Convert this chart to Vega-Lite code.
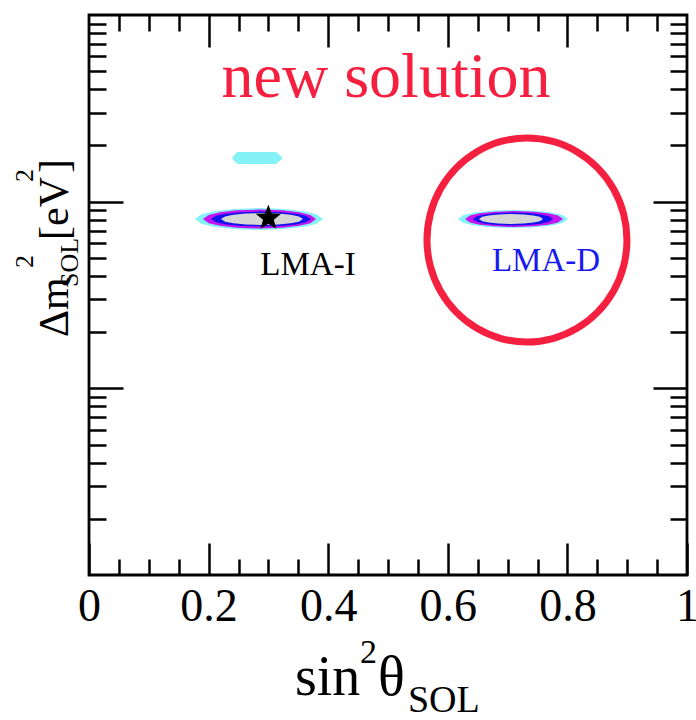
{
  "$schema": "https://vega.github.io/schema/vega-lite/v6.json",
  "width": 598,
  "height": 560,
  "autosize": "none",
  "padding": {"left": 89, "top": 15, "right": 9, "bottom": 145},
  "background": "white",
  "config": {
    "view": {"stroke": "black", "strokeWidth": 2.8},
    "axis": {"domain": false, "grid": false, "tickWidth": 2.5, "tickColor": "black", "title": null},
    "text": {"font": "Liberation Serif"}
  },
  "datasets": {
    "contours": [
      {"r": "I", "lv": "c", "x": 0.1773, "lo": 8.073e-5, "hi": 8.073e-5},
      {"r": "I", "lv": "c", "x": 0.1880, "lo": 7.610e-5, "hi": 8.565e-5},
      {"r": "I", "lv": "c", "x": 0.2094, "lo": 7.328e-5, "hi": 8.894e-5},
      {"r": "I", "lv": "c", "x": 0.2415, "lo": 7.129e-5, "hi": 9.142e-5},
      {"r": "I", "lv": "c", "x": 0.2843, "lo": 7.049e-5, "hi": 9.246e-5},
      {"r": "I", "lv": "c", "x": 0.3271, "lo": 7.129e-5, "hi": 9.142e-5},
      {"r": "I", "lv": "c", "x": 0.3592, "lo": 7.328e-5, "hi": 8.894e-5},
      {"r": "I", "lv": "c", "x": 0.3806, "lo": 7.610e-5, "hi": 8.565e-5},
      {"r": "I", "lv": "c", "x": 0.3913, "lo": 8.073e-5, "hi": 8.073e-5},
      {"r": "I", "lv": "m", "x": 0.1906, "lo": 8.073e-5, "hi": 8.073e-5},
      {"r": "I", "lv": "m", "x": 0.2001, "lo": 7.671e-5, "hi": 8.496e-5},
      {"r": "I", "lv": "m", "x": 0.2190, "lo": 7.425e-5, "hi": 8.778e-5},
      {"r": "I", "lv": "m", "x": 0.2473, "lo": 7.251e-5, "hi": 8.988e-5},
      {"r": "I", "lv": "m", "x": 0.2851, "lo": 7.180e-5, "hi": 9.076e-5},
      {"r": "I", "lv": "m", "x": 0.3229, "lo": 7.251e-5, "hi": 8.988e-5},
      {"r": "I", "lv": "m", "x": 0.3513, "lo": 7.425e-5, "hi": 8.778e-5},
      {"r": "I", "lv": "m", "x": 0.3702, "lo": 7.671e-5, "hi": 8.496e-5},
      {"r": "I", "lv": "m", "x": 0.3796, "lo": 8.073e-5, "hi": 8.073e-5},
      {"r": "I", "lv": "b", "x": 0.2040, "lo": 8.073e-5, "hi": 8.073e-5},
      {"r": "I", "lv": "b", "x": 0.2124, "lo": 7.754e-5, "hi": 8.406e-5},
      {"r": "I", "lv": "b", "x": 0.2291, "lo": 7.557e-5, "hi": 8.624e-5},
      {"r": "I", "lv": "b", "x": 0.2542, "lo": 7.417e-5, "hi": 8.787e-5},
      {"r": "I", "lv": "b", "x": 0.2876, "lo": 7.360e-5, "hi": 8.855e-5},
      {"r": "I", "lv": "b", "x": 0.3210, "lo": 7.417e-5, "hi": 8.787e-5},
      {"r": "I", "lv": "b", "x": 0.3461, "lo": 7.557e-5, "hi": 8.624e-5},
      {"r": "I", "lv": "b", "x": 0.3628, "lo": 7.754e-5, "hi": 8.406e-5},
      {"r": "I", "lv": "b", "x": 0.3712, "lo": 8.073e-5, "hi": 8.073e-5},
      {"r": "I", "lv": "g", "x": 0.2207, "lo": 8.073e-5, "hi": 8.073e-5},
      {"r": "I", "lv": "g", "x": 0.2276, "lo": 7.817e-5, "hi": 8.338e-5},
      {"r": "I", "lv": "g", "x": 0.2413, "lo": 7.657e-5, "hi": 8.511e-5},
      {"r": "I", "lv": "g", "x": 0.2619, "lo": 7.543e-5, "hi": 8.640e-5},
      {"r": "I", "lv": "g", "x": 0.2893, "lo": 7.497e-5, "hi": 8.693e-5},
      {"r": "I", "lv": "g", "x": 0.3167, "lo": 7.543e-5, "hi": 8.640e-5},
      {"r": "I", "lv": "g", "x": 0.3373, "lo": 7.657e-5, "hi": 8.511e-5},
      {"r": "I", "lv": "g", "x": 0.3510, "lo": 7.817e-5, "hi": 8.338e-5},
      {"r": "I", "lv": "g", "x": 0.3579, "lo": 8.073e-5, "hi": 8.073e-5},
      {"r": "D", "lv": "c", "x": 0.6170, "lo": 8.073e-5, "hi": 8.073e-5},
      {"r": "D", "lv": "c", "x": 0.6262, "lo": 7.692e-5, "hi": 8.473e-5},
      {"r": "D", "lv": "c", "x": 0.6446, "lo": 7.458e-5, "hi": 8.739e-5},
      {"r": "D", "lv": "c", "x": 0.6722, "lo": 7.292e-5, "hi": 8.938e-5},
      {"r": "D", "lv": "c", "x": 0.7090, "lo": 7.225e-5, "hi": 9.021e-5},
      {"r": "D", "lv": "c", "x": 0.7458, "lo": 7.292e-5, "hi": 8.938e-5},
      {"r": "D", "lv": "c", "x": 0.7734, "lo": 7.458e-5, "hi": 8.739e-5},
      {"r": "D", "lv": "c", "x": 0.7918, "lo": 7.692e-5, "hi": 8.473e-5},
      {"r": "D", "lv": "c", "x": 0.8010, "lo": 8.073e-5, "hi": 8.073e-5},
      {"r": "D", "lv": "m", "x": 0.6288, "lo": 8.073e-5, "hi": 8.073e-5},
      {"r": "D", "lv": "m", "x": 0.6370, "lo": 7.733e-5, "hi": 8.428e-5},
      {"r": "D", "lv": "m", "x": 0.6534, "lo": 7.524e-5, "hi": 8.662e-5},
      {"r": "D", "lv": "m", "x": 0.6779, "lo": 7.375e-5, "hi": 8.837e-5},
      {"r": "D", "lv": "m", "x": 0.7107, "lo": 7.315e-5, "hi": 8.910e-5},
      {"r": "D", "lv": "m", "x": 0.7435, "lo": 7.375e-5, "hi": 8.837e-5},
      {"r": "D", "lv": "m", "x": 0.7680, "lo": 7.524e-5, "hi": 8.662e-5},
      {"r": "D", "lv": "m", "x": 0.7844, "lo": 7.733e-5, "hi": 8.428e-5},
      {"r": "D", "lv": "m", "x": 0.7926, "lo": 8.073e-5, "hi": 8.073e-5},
      {"r": "D", "lv": "b", "x": 0.6421, "lo": 8.073e-5, "hi": 8.073e-5},
      {"r": "D", "lv": "b", "x": 0.6488, "lo": 7.795e-5, "hi": 8.360e-5},
      {"r": "D", "lv": "b", "x": 0.6622, "lo": 7.624e-5, "hi": 8.548e-5},
      {"r": "D", "lv": "b", "x": 0.6822, "lo": 7.501e-5, "hi": 8.688e-5},
      {"r": "D", "lv": "b", "x": 0.7090, "lo": 7.451e-5, "hi": 8.747e-5},
      {"r": "D", "lv": "b", "x": 0.7358, "lo": 7.501e-5, "hi": 8.688e-5},
      {"r": "D", "lv": "b", "x": 0.7558, "lo": 7.624e-5, "hi": 8.548e-5},
      {"r": "D", "lv": "b", "x": 0.7692, "lo": 7.795e-5, "hi": 8.360e-5},
      {"r": "D", "lv": "b", "x": 0.7759, "lo": 8.073e-5, "hi": 8.073e-5},
      {"r": "D", "lv": "g", "x": 0.6522, "lo": 8.073e-5, "hi": 8.073e-5},
      {"r": "D", "lv": "g", "x": 0.6576, "lo": 7.859e-5, "hi": 8.293e-5},
      {"r": "D", "lv": "g", "x": 0.6683, "lo": 7.725e-5, "hi": 8.436e-5},
      {"r": "D", "lv": "g", "x": 0.6843, "lo": 7.629e-5, "hi": 8.543e-5},
      {"r": "D", "lv": "g", "x": 0.7057, "lo": 7.590e-5, "hi": 8.586e-5},
      {"r": "D", "lv": "g", "x": 0.7271, "lo": 7.629e-5, "hi": 8.543e-5},
      {"r": "D", "lv": "g", "x": 0.7431, "lo": 7.725e-5, "hi": 8.436e-5},
      {"r": "D", "lv": "g", "x": 0.7538, "lo": 7.859e-5, "hi": 8.293e-5},
      {"r": "D", "lv": "g", "x": 0.7592, "lo": 8.073e-5, "hi": 8.073e-5},
      {"r": "U", "lv": "c", "x": 0.2391, "lo": 1.714e-4, "hi": 1.714e-4},
      {"r": "U", "lv": "c", "x": 0.2475, "lo": 1.591e-4, "hi": 1.845e-4},
      {"r": "U", "lv": "c", "x": 0.3127, "lo": 1.591e-4, "hi": 1.845e-4},
      {"r": "U", "lv": "c", "x": 0.3244, "lo": 1.714e-4, "hi": 1.714e-4}
    ],
    "circle": [
      {"i": 0, "x": 0.8996, "y": 6.233e-5},
      {"i": 1, "x": 0.8939, "y": 8.630e-5},
      {"i": 2, "x": 0.8772, "y": 1.169e-4},
      {"i": 3, "x": 0.8506, "y": 1.517e-4},
      {"i": 4, "x": 0.8160, "y": 1.853e-4},
      {"i": 5, "x": 0.7757, "y": 2.102e-4},
      {"i": 6, "x": 0.7324, "y": 2.194e-4},
      {"i": 7, "x": 0.6891, "y": 2.102e-4},
      {"i": 8, "x": 0.6488, "y": 1.853e-4},
      {"i": 9, "x": 0.6142, "y": 1.517e-4},
      {"i": 10, "x": 0.5876, "y": 1.169e-4},
      {"i": 11, "x": 0.5709, "y": 8.630e-5},
      {"i": 12, "x": 0.5652, "y": 6.233e-5},
      {"i": 13, "x": 0.5709, "y": 4.500e-5},
      {"i": 14, "x": 0.5876, "y": 3.322e-5},
      {"i": 15, "x": 0.6142, "y": 2.560e-5},
      {"i": 16, "x": 0.6488, "y": 2.097e-5},
      {"i": 17, "x": 0.6891, "y": 1.849e-5},
      {"i": 18, "x": 0.7324, "y": 1.771e-5},
      {"i": 19, "x": 0.7757, "y": 1.849e-5},
      {"i": 20, "x": 0.8160, "y": 2.097e-5},
      {"i": 21, "x": 0.8506, "y": 2.560e-5},
      {"i": 22, "x": 0.8772, "y": 3.322e-5},
      {"i": 23, "x": 0.8939, "y": 4.500e-5}
    ],
    "labels": [
      {"k": "title", "t": "new solution", "x": 0.4967, "y": 3.637e-4},
      {"k": "lmai", "t": "LMA-I", "x": 0.3662, "y": 4.048e-5},
      {"k": "lmad", "t": "LMA-D", "x": 0.7642, "y": 4.252e-5},
      {"k": "xbig", "t": "sin", "x": 0.3445, "y": 2.277e-7},
      {"k": "xbig", "t": "θ", "x": 0.4833, "y": 2.277e-7},
      {"k": "xsup", "t": "2", "x": 0.4532, "y": 3.378e-7},
      {"k": "xsub", "t": "SOL", "x": 0.5334, "y": 1.845e-7},
      {"k": "ybig", "t": "Δm", "x": -0.0351, "y": 1.884e-5},
      {"k": "ybig", "t": "[eV", "x": -0.0351, "y": 6.233e-5},
      {"k": "ybig", "t": "]", "x": -0.0351, "y": 1.424e-4},
      {"k": "ysup", "t": "2", "x": -0.0936, "y": 4.412e-5},
      {"k": "ysup", "t": "2", "x": -0.0936, "y": 1.274e-4},
      {"k": "ysub", "t": "SOL", "x": -0.0184, "y": 3.490e-5}
    ]
  },
  "encoding": {
    "x": {"field": "x", "type": "quantitative", "scale": {"domain": [0, 1], "nice": false, "zero": false}, "axis": null},
    "y": {"field": "y", "type": "quantitative", "scale": {"type": "log", "domain": [1e-6, 1e-3], "nice": false}, "axis": null}
  },
  "layer": [
    {
      "data": {"name": "contours"},
      "transform": [{"filter": "datum.lv == 'c'"}],
      "mark": {"type": "area", "color": "#84f2f6"},
      "encoding": {
        "x": {"field": "x", "type": "quantitative",
          "axis": {"orient": "bottom", "values": [0, 0.2, 0.4, 0.6, 0.8, 1], "tickSize": -32, "format": "~g",
            "labelFont": "Liberation Serif", "labelFontSize": 46, "labelColor": "black", "labelPadding": 41,
            "labelOverlap": false, "labelFlush": false, "labelBound": false}},
        "y": {"field": "lo", "type": "quantitative",
          "axis": {"orient": "left", "labels": false, "values": [1e-5, 1e-4], "tickSize": -34}},
        "y2": {"field": "hi"},
        "detail": {"field": "r"}
      }
    },
    {
      "data": {"name": "contours"},
      "transform": [{"filter": "datum.lv == 'm'"}],
      "mark": {"type": "area", "color": "#c414f0"},
      "encoding": {
        "x": {"field": "x", "type": "quantitative",
          "axis": {"orient": "bottom", "labels": false, "tickSize": -16,
            "values": [0.05, 0.1, 0.15, 0.25, 0.3, 0.35, 0.45, 0.5, 0.55, 0.65, 0.7, 0.75, 0.85, 0.9, 0.95]}},
        "y": {"field": "lo", "type": "quantitative",
          "axis": {"orient": "left", "labels": false, "tickSize": -17,
            "values": [2e-6, 3e-6, 4e-6, 5e-6, 6e-6, 7e-6, 8e-6, 9e-6, 2e-5, 3e-5, 4e-5, 5e-5, 6e-5, 7e-5, 8e-5, 9e-5, 2e-4, 3e-4, 4e-4, 5e-4, 6e-4, 7e-4, 8e-4, 9e-4]}},
        "y2": {"field": "hi"},
        "detail": {"field": "r"}
      }
    },
    {
      "data": {"name": "contours"},
      "transform": [{"filter": "datum.lv == 'b'"}],
      "mark": {"type": "area", "color": "#1212ee"},
      "encoding": {
        "x": {"field": "x", "type": "quantitative",
          "axis": {"orient": "top", "labels": false, "values": [0.2, 0.4, 0.6, 0.8], "tickSize": -32}},
        "y": {"field": "lo", "type": "quantitative",
          "axis": {"orient": "right", "labels": false, "values": [1e-5, 1e-4], "tickSize": -34}},
        "y2": {"field": "hi"},
        "detail": {"field": "r"}
      }
    },
    {
      "data": {"name": "contours"},
      "transform": [{"filter": "datum.lv == 'g'"}],
      "mark": {"type": "area", "color": "#d6d6d6"},
      "encoding": {
        "x": {"field": "x", "type": "quantitative",
          "axis": {"orient": "top", "labels": false, "tickSize": -16,
            "values": [0.05, 0.1, 0.15, 0.25, 0.3, 0.35, 0.45, 0.5, 0.55, 0.65, 0.7, 0.75, 0.85, 0.9, 0.95]}},
        "y": {"field": "lo", "type": "quantitative",
          "axis": {"orient": "right", "labels": false, "tickSize": -17,
            "values": [2e-6, 3e-6, 4e-6, 5e-6, 6e-6, 7e-6, 8e-6, 9e-6, 2e-5, 3e-5, 4e-5, 5e-5, 6e-5, 7e-5, 8e-5, 9e-5, 2e-4, 3e-4, 4e-4, 5e-4, 6e-4, 7e-4, 8e-4, 9e-4]}},
        "y2": {"field": "hi"},
        "detail": {"field": "r"}
      }
    },
    {
      "data": {"name": "circle"},
      "mark": {"type": "line", "color": "#f5203f", "strokeWidth": 7, "interpolate": "cardinal-closed"},
      "encoding": {"order": {"field": "i"}}
    },
    {
      "data": {"values": [{"x": 0.3, "y": 8.175e-5}]},
      "mark": {"type": "point", "shape": "M0,-1L0.247,-0.34L0.951,-0.309L0.399,0.13L0.588,0.809L0,0.42L-0.588,0.809L-0.399,0.13L-0.951,-0.309L-0.247,-0.34Z", "filled": true, "color": "black", "opacity": 1, "size": 720}
    },
    {
      "data": {"name": "labels"},
      "transform": [{"filter": "datum.k == 'title'"}],
      "mark": {"type": "text", "fontSize": 64, "color": "#f5203f", "align": "center", "baseline": "alphabetic"},
      "encoding": {"text": {"field": "t"}}
    },
    {
      "data": {"name": "labels"},
      "transform": [{"filter": "datum.k == 'lmai'"}],
      "mark": {"type": "text", "fontSize": 33, "color": "black", "align": "center", "baseline": "alphabetic"},
      "encoding": {"text": {"field": "t"}}
    },
    {
      "data": {"name": "labels"},
      "transform": [{"filter": "datum.k == 'lmad'"}],
      "mark": {"type": "text", "fontSize": 33, "color": "#1818f0", "align": "center", "baseline": "alphabetic"},
      "encoding": {"text": {"field": "t"}}
    },
    {
      "data": {"name": "labels"},
      "transform": [{"filter": "datum.k == 'xbig'"}],
      "mark": {"type": "text", "fontSize": 56, "color": "black", "align": "left", "baseline": "alphabetic"},
      "encoding": {"text": {"field": "t"}}
    },
    {
      "data": {"name": "labels"},
      "transform": [{"filter": "datum.k == 'xsup'"}],
      "mark": {"type": "text", "fontSize": 34, "color": "black", "align": "left", "baseline": "alphabetic"},
      "encoding": {"text": {"field": "t"}}
    },
    {
      "data": {"name": "labels"},
      "transform": [{"filter": "datum.k == 'xsub'"}],
      "mark": {"type": "text", "fontSize": 38, "color": "black", "align": "left", "baseline": "alphabetic"},
      "encoding": {"text": {"field": "t"}}
    },
    {
      "data": {"name": "labels"},
      "transform": [{"filter": "datum.k == 'ybig'"}],
      "mark": {"type": "text", "fontSize": 42, "color": "black", "align": "left", "baseline": "alphabetic", "angle": 270},
      "encoding": {"text": {"field": "t"}}
    },
    {
      "data": {"name": "labels"},
      "transform": [{"filter": "datum.k == 'ysup'"}],
      "mark": {"type": "text", "fontSize": 26, "color": "black", "align": "left", "baseline": "alphabetic", "angle": 270},
      "encoding": {"text": {"field": "t"}}
    },
    {
      "data": {"name": "labels"},
      "transform": [{"filter": "datum.k == 'ysub'"}],
      "mark": {"type": "text", "fontSize": 26, "color": "black", "align": "left", "baseline": "alphabetic", "angle": 270},
      "encoding": {"text": {"field": "t"}}
    }
  ],
  "resolve": {"axis": {"x": "independent", "y": "independent"}}
}
